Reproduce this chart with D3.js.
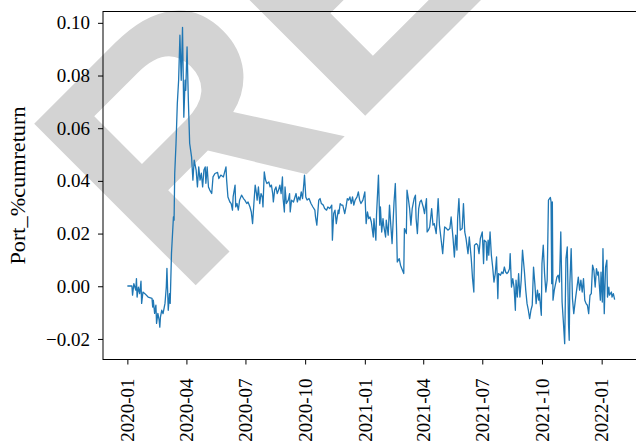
<!DOCTYPE html>
<html>
<head>
<meta charset="utf-8">
<script src="https://cdn.jsdelivr.net/npm/d3@7"></script>
<style>
  body { margin: 0; background: #fff; }
  svg { display: block; }
</style>
</head>
<body>
<svg id="chart" width="636" height="446"></svg>
<script>
// Portfolio cumulative return, daily observations counted from the start date
const startDate = new Date(2020, 0, 1);

const dayIndex = [
  0,7,8,10,13,14,15,17,19,21,
  22,24,27,32,38,39,40,42,44,45,
  47,49,50,51,53,55,58,60,61,63,
  65,66,68,71,72,73,75,77,79,81,
  83,85,87,89,90,92,94,96,99,101,
  103,106,108,110,112,114,116,118,120,121,
  123,125,127,130,132,135,139,141,144,148,
  150,152,153,155,158,160,162,163,166,167,
  169,171,173,176,179,181,184,186,189,191,
  193,195,197,199,200,202,204,206,208,209,
  211,213,215,218,220,222,224,225,227,229,
  231,233,235,237,239,240,242,243,245,248,
  250,251,253,256,260,262,264,266,268,270,
  272,273,275,277,280,283,286,289,290,292,
  295,297,299,302,304,307,309,312,315,316,
  318,320,322,325,326,328,330,332,335,337,
  339,341,343,345,347,349,351,354,356,358,
  360,363,366,368,370,372,374,376,379,380,
  383,384,387,389,390,392,394,395,398,399,
  402,404,406,408,411,413,415,416,419,421,
  424,426,427,430,431,433,435,437,439,442,
  444,445,447,449,451,453,456,458,461,462,
  464,466,469,471,473,476,479,481,484,486,
  489,492,494,497,499,502,504,506,508,509,
  511,513,516,518,520,522,525,527,530,532,
  534,535,538,540,542,544,547,549,550,553,
  554,556,557,559,561,563,565,567,569,571,
  572,575,577,579,581,583,585,587,589,590,
  592,594,596,598,599,601,603,605,607,609,
  612,614,616,618,620,622,624,626,628,630,
  632,634,635,638,639,641,643,645,647,649,
  652,653,654,655,656,658,660,662,664,666,
  668,670,672,674,676,678,680,681,682,684,
  686,688,691,693,695,697,699,701,703,705,
  707,709,711,713,715,717,719,721,723,725,
  726,729,730,732,733,735,737,739,740,742,
  743,746,747,749,751
];

const cumReturn = [
  0.0001,0.0001,-0.0034,0.0010,-0.0015,0.0029,-0.0041,-0.0003,-0.0028,0.0019,
  -0.0065,-0.0022,-0.0028,-0.0041,-0.0046,-0.0079,-0.0053,-0.0103,-0.0072,-0.0141,
  -0.0103,-0.0129,-0.0155,-0.0117,-0.0091,-0.0104,-0.0065,-0.0003,0.0068,-0.0091,
  -0.0028,-0.0065,0.0125,0.0263,0.0251,0.0429,0.0543,0.0695,0.0782,0.0953,
  0.0782,0.0983,0.0642,0.0782,0.0744,0.0909,0.0706,0.0543,0.0490,0.0403,
  0.0479,0.0441,0.0377,0.0453,0.0403,0.0429,0.0377,0.0441,0.0453,0.0391,
  0.0453,0.0377,0.0365,0.0352,0.0415,0.0428,0.0432,0.0409,0.0422,0.0415,
  0.0434,0.0453,0.0403,0.0339,0.0320,0.0314,0.0289,0.0339,0.0384,0.0301,
  0.0314,0.0289,0.0327,0.0346,0.0333,0.0327,0.0314,0.0320,0.0301,0.0282,
  0.0238,0.0314,0.0384,0.0352,0.0327,0.0377,0.0314,0.0352,0.0339,0.0301,
  0.0434,0.0403,0.0390,0.0396,0.0377,0.0384,0.0352,0.0320,0.0365,0.0377,
  0.0352,0.0365,0.0384,0.0352,0.0415,0.0333,0.0282,0.0377,0.0314,0.0327,
  0.0352,0.0282,0.0327,0.0320,0.0352,0.0320,0.0339,0.0327,0.0358,0.0333,
  0.0390,0.0422,0.0339,0.0327,0.0333,0.0314,0.0301,0.0289,0.0263,0.0232,
  0.0327,0.0333,0.0314,0.0308,0.0295,0.0289,0.0301,0.0295,0.0308,0.0175,
  0.0276,0.0289,0.0238,0.0289,0.0276,0.0314,0.0308,0.0308,0.0276,0.0301,
  0.0333,0.0327,0.0339,0.0314,0.0339,0.0308,0.0327,0.0339,0.0358,0.0327,
  0.0314,0.0327,0.0358,0.0238,0.0282,0.0257,0.0263,0.0244,0.0187,0.0257,
  0.0175,0.0270,0.0422,0.0232,0.0301,0.0206,0.0257,0.0232,0.0187,0.0251,
  0.0194,0.0308,0.0232,0.0162,0.0320,0.0390,0.0206,0.0092,0.0105,0.0080,
  0.0061,0.0048,0.0219,0.0200,0.0365,0.0333,0.0295,0.0232,0.0295,0.0333,
  0.0346,0.0257,0.0200,0.0295,0.0320,0.0327,0.0301,0.0276,0.0333,0.0206,
  0.0213,0.0225,0.0295,0.0232,0.0238,0.0200,0.0333,0.0232,0.0168,0.0124,
  0.0225,0.0219,0.0213,0.0219,0.0263,0.0181,0.0111,0.0194,0.0137,0.0257,
  0.0333,0.0213,0.0219,0.0314,0.0206,0.0181,0.0124,0.0187,0.0105,0.0029,
  -0.0022,0.0156,0.0162,0.0156,0.0124,0.0181,0.0206,0.0086,0.0175,0.0168,
  0.0099,0.0175,0.0118,0.0206,0.0118,0.0073,0.0016,0.0048,0.0111,-0.0047,
  0.0048,0.0042,0.0054,0.0048,0.0073,0.0054,0.0048,0.0054,0.0067,0.0124,
  -0.0003,0.0029,-0.0003,-0.0091,0.0023,-0.0041,0.0048,-0.0041,0.0023,0.0137,
  0.0054,-0.0015,-0.0066,-0.0091,-0.0123,-0.0091,-0.0072,0.0073,0.0010,-0.0066,
  -0.0015,-0.0053,-0.0028,-0.0110,0.0086,0.0156,0.0048,-0.0022,0.0023,0.0327,
  0.0337,0.0320,0.0010,0.0320,-0.0053,-0.0015,0.0010,0.0035,0.0042,0.0016,
  0.0206,-0.0060,-0.0136,-0.0218,0.0105,0.0149,-0.0148,-0.0205,0.0010,0.0143,
  -0.0047,-0.0104,-0.0041,-0.0003,0.0035,-0.0015,0.0023,-0.0022,0.0029,-0.0053,
  -0.0066,-0.0072,-0.0104,-0.0034,-0.0028,0.0080,0.0061,-0.0003,0.0067,0.0042,
  0.0054,-0.0053,0.0054,-0.0060,0.0143,-0.0104,0.0073,0.0099,-0.0041,-0.0003,
  -0.0034,-0.0022,-0.0041,-0.0028,-0.0051
];

const xTickLabels = ["2020-01","2020-04","2020-07","2020-10","2021-01","2021-04","2021-07","2021-10","2022-01"];
const yTickValues = [-0.02, 0.00, 0.02, 0.04, 0.06, 0.08, 0.10];
const yLabel = "Port_%cumreturn";
const watermarkText = "RETRACTED";

if (dayIndex.length !== cumReturn.length) {
  throw new Error("length mismatch: " + dayIndex.length + " vs " + cumReturn.length);
}

const series = dayIndex.map((d, i) => ({ date: d3.timeDay.offset(startDate, d), value: cumReturn[i] }));

const svg = d3.select("#chart");
const plot = { left: 103, right: 639, top: 11.5, bottom: 359.5 };
const serif = "'Liberation Serif', 'Times New Roman', serif";
const fontSize = 19;

// Padded domains (5% on each side)
const [x0, x1] = d3.extent(series, d => d.date);
const xPad = (x1 - x0) * 0.05;
const x = d3.scaleTime()
  .domain([new Date(+x0 - xPad), new Date(+x1 + xPad)])
  .range([plot.left, plot.right]);

const [y0, y1] = d3.extent(series, d => d.value);
const yPad = (y1 - y0) * 0.05;
const y = d3.scaleLinear()
  .domain([y0 - yPad, y1 + yPad])
  .range([plot.bottom, plot.top]);

// Diagonal watermark behind everything
svg.append("text")
  .attr("transform", "translate(180,301) rotate(-45)")
  .attr("font-family", "'Liberation Sans', Arial, sans-serif")
  .attr("font-weight", "bold")
  .attr("font-size", 332)
  .attr("fill", "#d3d3d3")
  .text(watermarkText);

// Line
const line = d3.line().x(d => x(d.date)).y(d => y(d.value));
svg.append("path")
  .datum(series)
  .attr("fill", "none")
  .attr("stroke", "#1f77b4")
  .attr("stroke-width", 1.3)
  .attr("stroke-linejoin", "round")
  .attr("d", line);

// Frame
svg.append("rect")
  .attr("x", plot.left).attr("y", plot.top)
  .attr("width", plot.right - plot.left).attr("height", plot.bottom - plot.top)
  .attr("fill", "none").attr("stroke", "#000").attr("stroke-width", 1);

// X axis
const parseMonth = d3.timeParse("%Y-%m");
const xAxis = d3.axisBottom(x)
  .tickValues(xTickLabels.map(parseMonth))
  .tickFormat(d3.timeFormat("%Y-%m"))
  .tickSize(5)
  .tickSizeOuter(0);
const gx = svg.append("g")
  .attr("transform", `translate(0,${plot.bottom})`)
  .call(xAxis);
gx.select(".domain").remove();
gx.selectAll(".tick line").attr("stroke", "#000").attr("stroke-width", 1);
gx.selectAll(".tick text")
  .attr("font-family", serif)
  .attr("font-size", fontSize)
  .attr("fill", "#000")
  .attr("transform", "rotate(-90)")
  .attr("text-anchor", "end")
  .attr("x", -19)
  .attr("y", 0)
  .attr("dy", "0.33em");

// Y axis
const fmt = v => (v < 0 ? "\u2212" : "") + d3.format(".2f")(Math.abs(v));
const yAxis = d3.axisLeft(y)
  .tickValues(yTickValues)
  .tickFormat(fmt)
  .tickSize(5)
  .tickPadding(8)
  .tickSizeOuter(0);
const gy = svg.append("g")
  .attr("transform", `translate(${plot.left},0)`)
  .call(yAxis);
gy.select(".domain").remove();
gy.selectAll(".tick line").attr("stroke", "#000").attr("stroke-width", 1);
gy.selectAll(".tick text")
  .attr("font-family", serif)
  .attr("font-size", fontSize)
  .attr("fill", "#000");

// Y label
svg.append("text")
  .attr("transform", `translate(18,${(plot.top + plot.bottom) / 2}) rotate(-90)`)
  .attr("text-anchor", "middle")
  .attr("dy", "0.35em")
  .attr("font-family", serif)
  .attr("font-size", 21)
  .attr("textLength", 158)
  .attr("lengthAdjust", "spacingAndGlyphs")
  .attr("fill", "#000")
  .text(yLabel);
</script>
</body>
</html>
